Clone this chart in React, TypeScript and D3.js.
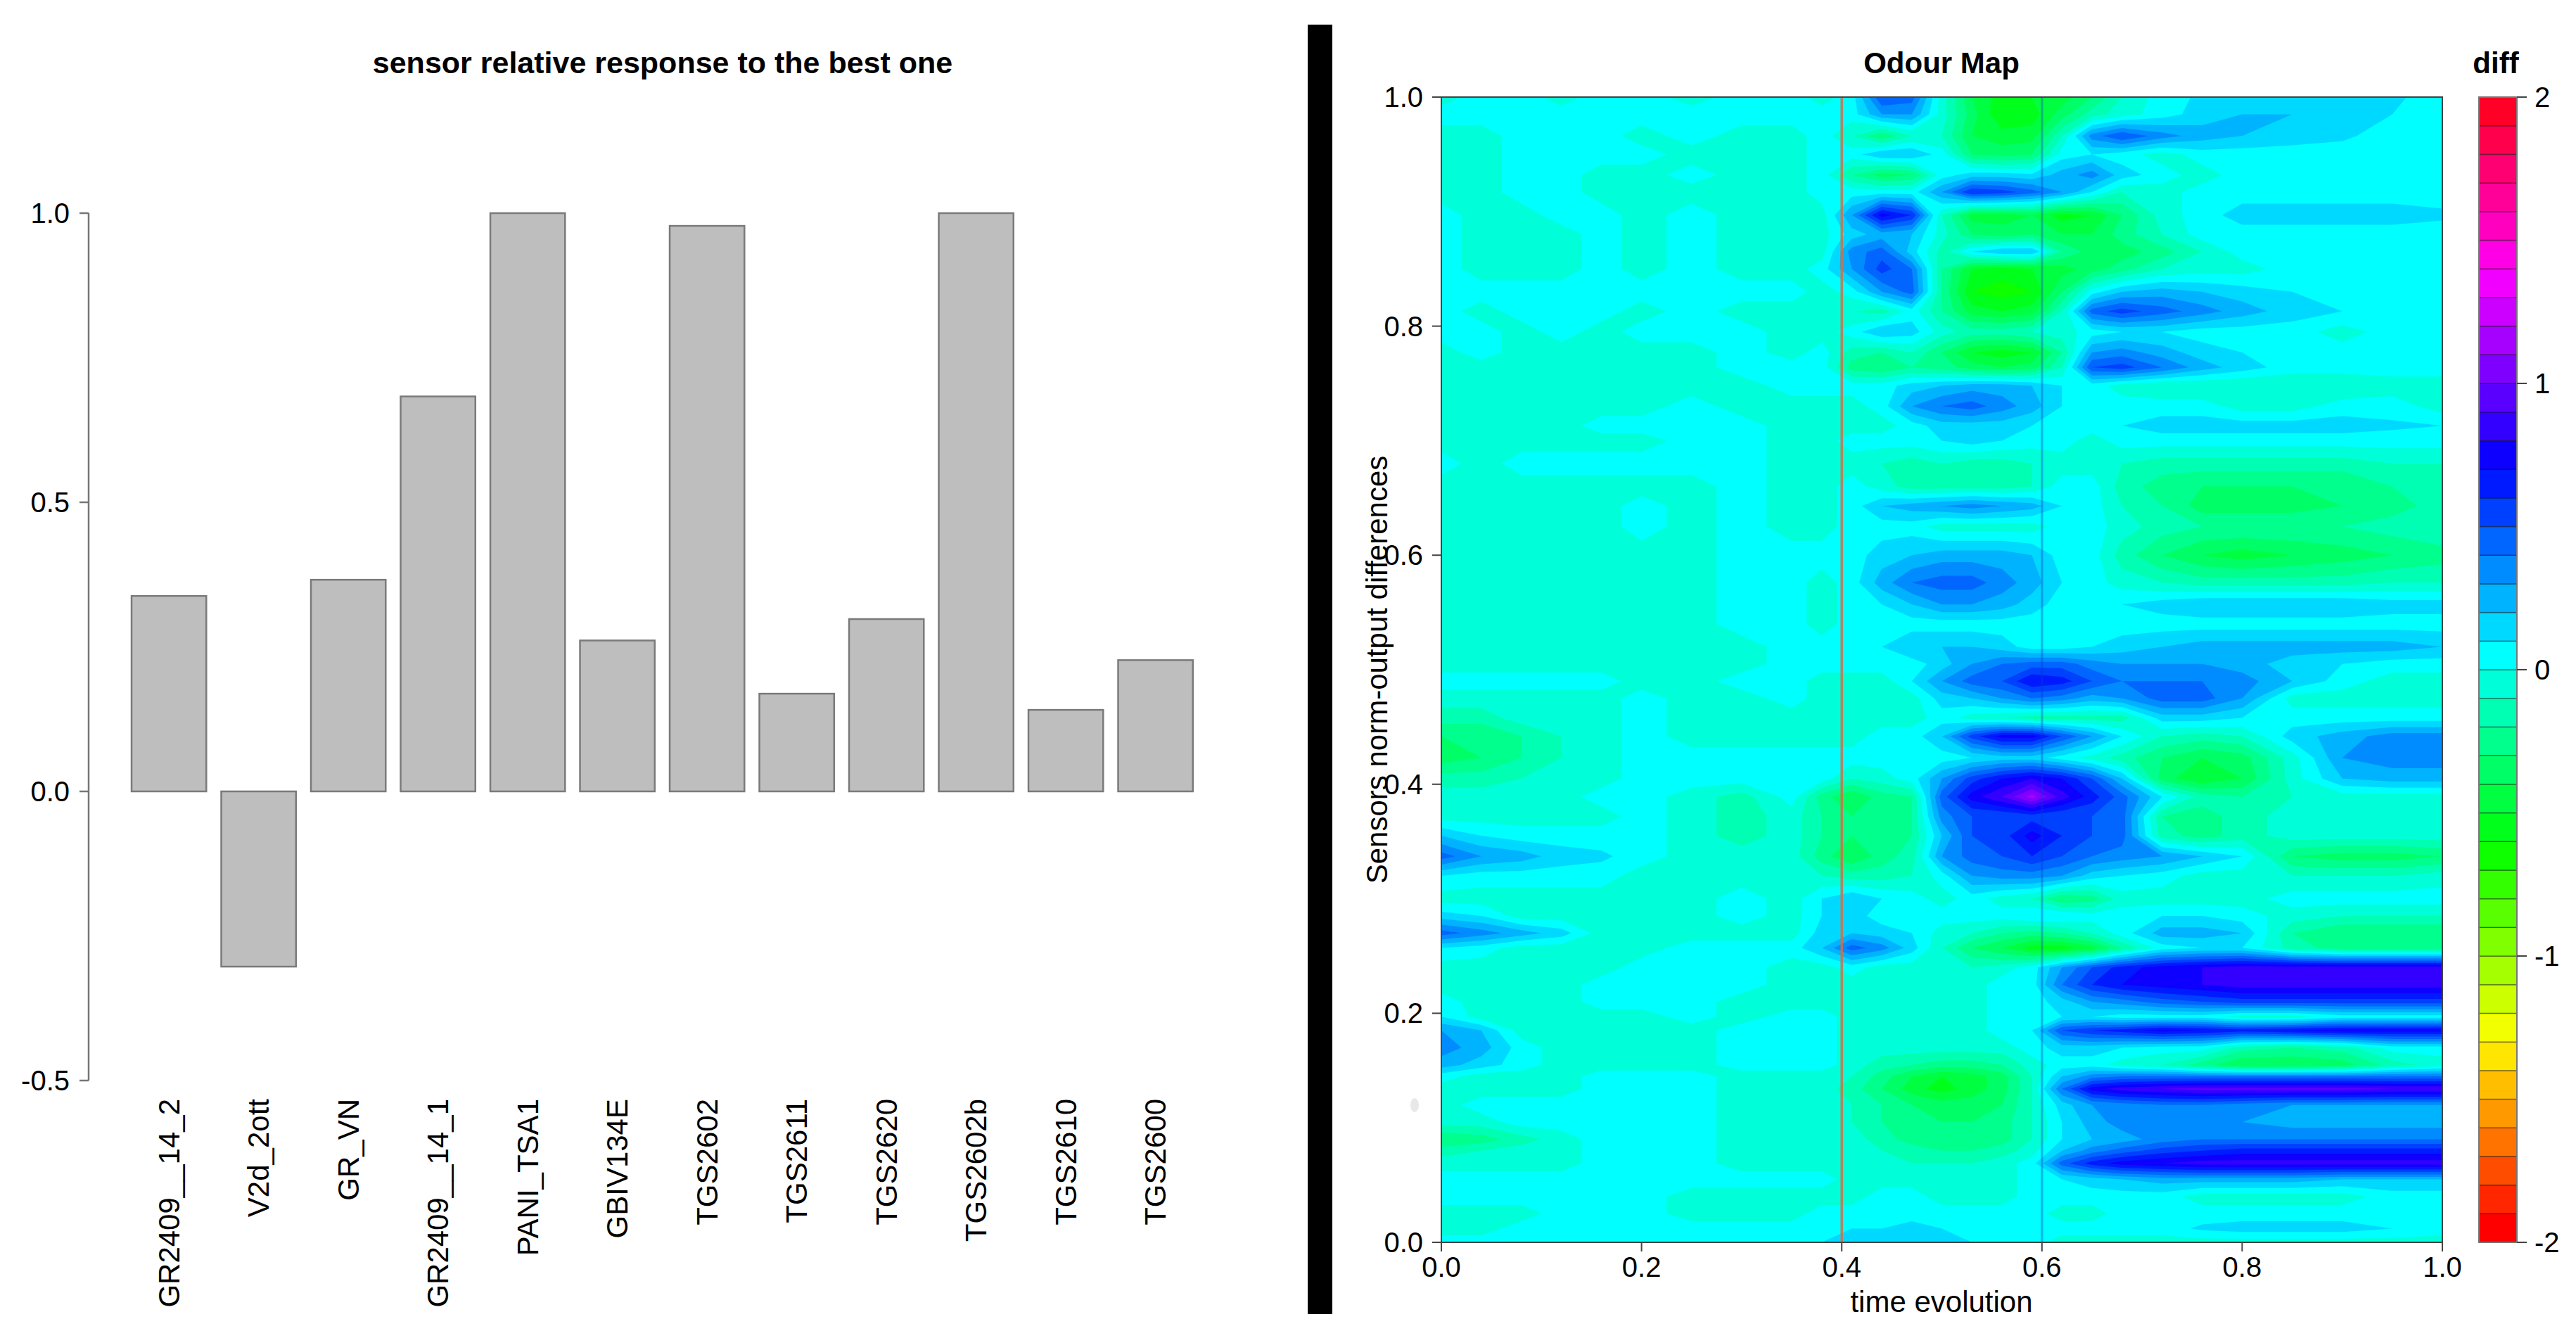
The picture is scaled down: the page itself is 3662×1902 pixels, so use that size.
import React from 'react';
import * as d3 from 'd3';

// ---------- data: left bar chart ----------
const sensorNames = ['GR2409__14_2', 'V2d_2ott', 'GR_VN', 'GR2409__14_1', 'PANI_TSA1', 'GBIV134E', 'TGS2602', 'TGS2611', 'TGS2620', 'TGS2602b', 'TGS2610', 'TGS2600'];
const relativeResponse = [0.338, -0.303, 0.366, 0.683, 1.0, 0.261, 0.978, 0.169, 0.298, 1.0, 0.141, 0.227];
const barAxisTicks = [-0.5, 0, 0.5, 1];

// ---------- data: odour map (grid) ----------
const timeGrid = [0, 0.04, 0.08, 0.12, 0.16, 0.2, 0.25, 0.3, 0.35, 0.38, 0.41, 0.44, 0.47, 0.5, 0.53, 0.56, 0.59, 0.62, 0.65, 0.68, 0.72, 0.76, 0.8, 0.85, 0.9, 0.95, 1];
const sensorGrid = [1.0, .985, .966, .95, .932, .917, .897, .88, .865, .85, .83, .813, .795, .777, .764, .748, .73, .713, .70, .68, .66, .643, .625, .60, .576, .557, .54, .52, .505, .49, .475, .458, .442, .423, .405, .389, .372, .355, .337, .32, .30, .285, .27, .257, .24, .225, .21, .197, .185, .17, .155, .145, .134, .12, .105, .09, .08, .069, .055, .04, .025, .012, 0];
const diffMap = [
  [-.05,.05,.05,-.05,.05,.05,-.05,.05,.05,-.05,.05, .5,.45,-.05,-.4,-.55,-.5,-.45,-.3,-.1, .05,.12,.15,.15,.15,.12,.05],
  [.05,.05,.05,.05,.05,.05,.05,.05,.05,.05,.05, .3,.3,-.05,-.35,-.6,-.55,-.35,-.15,-.05, .05,.15,.2,.2,.15,.1,.05],
  [-.05,-.05,.05,.05,.05,-.05,.05,-.05,-.05,.05,-.1, -.3,-.1,-.1,-.4,-.45,-.45,-.1,.35,.5, .35,.25,.2,.15,.12,.05,.05],
  [-.05,-.05,.05,.05,.05,.05,-.05,-.05,-.05,.05,.05, .2,.2,.05,-.3,-.35,-.3,.05,.1,.05, -.05,.05,.05,.05,.05,.05,.05],
  [-.05,-.05,.05,.05,-.05,-.05,.05,-.05,-.05,.05,-.2, -.35,-.3,.05,.15,.15,.12,.25,.35,.15, .05,-.05,.05,.05,.05,.05,.05],
  [-.05,-.05,.05,.05,-.05,-.05,-.05,-.05,-.05,.05,.05, .05,.05,.3,.6,.55,.45,.3,.1,-.1, -.05,.05,.05,.05,.05,.05,.05],
  [.05,-.05,-.05,.05,.05,-.05,.05,-.05,-.05,-.05,.3, .75,.6,-.1,-.45,-.45,-.4,-.55,-.5,-.3, -.05,.05,.15,.15,.15,.15,.12],
  [.05,-.05,-.05,-.05,.05,-.05,.05,-.05,-.05,-.05,.15, .25,.2,-.05,-.3,-.35,-.3,-.4,-.4,-.25, -.1,.05,.05,.05,.05,.05,.05],
  [.05,-.05,-.05,-.05,.05,-.05,.05,-.05,-.05,-.05,.35, .45,.15,-.15,.1,.2,.2,-.2,-.35,-.35, -.25,-.1,.05,.05,.05,.05,.05],
  [.05,-.05,-.05,-.05,.05,-.05,.05,-.05,-.05,.05,.3, .55,.4,-.2,-.5,-.55,-.5,-.45,-.35,-.25, -.1,-.05,-.05,.05,.05,.05,.05],
  [.05,.05,.05,.05,.05,.05,.05,.05,.05,-.05,.05, .3,.45,-.2,-.6,-.65,-.6,-.3,.05,.2, .25,.2,.15,.1,.05,.05,.05],
  [.05,-.05,.05,.05,.05,-.05,.05,-.05,-.05,-.05,-.1, -.15,.05,-.2,-.45,-.5,-.45,-.1,.45,.55, .45,.35,.25,.15,.1,.05,.05],
  [.05,.05,-.05,.05,-.05,.05,.05,.05,-.05,-.05,.05, .2,.15,-.05,-.15,-.15,-.1,-.05,.05,.1, .1,.05,.05,.05,-.05,.05,.05],
  [-.05,.05,-.05,-.05,-.05,-.05,-.05,.05,-.05,.05,-.15, -.2,-.1,-.3,-.5,-.55,-.5,-.2,.3,.35, .25,.15,.1,.05,.05,.05,.05],
  [-.05,-.05,-.05,-.05,-.05,-.05,-.05,.05,.05,.05,-.25, -.3,-.2,-.25,-.35,-.4,-.35,-.1,.5,.55, .4,.25,.15,.05,.05,.05,.05],
  [-.05,-.05,-.05,-.05,-.05,-.05,-.05,-.05,.05,.05,.05, .05,.15,.2,.25,.25,.2,.1,.05,-.05, -.1,-.1,-.1,-.1,-.1,-.05,-.05],
  [-.05,-.05,-.05,-.05,-.05,-.05,.05,-.05,-.05,-.05,-.05, .05,.3,.4,.45,.35,.25,.1,.05,.05, .05,.05,-.05,-.05,.05,.05,-.05],
  [-.05,-.05,-.05,-.05,.05,.05,.05,.05,-.05,-.05,-.05, -.05,.05,.15,.15,.15,.1,.05,.05,.1, .15,.15,.15,.15,.15,.12,.1],
  [-.05,-.05,-.05,-.05,-.05,-.05,.05,.05,-.05,-.05,.05, .05,.05,.1,.15,.1,.05,.05,-.05,.05, .05,.05,.05,.05,.05,.05,.05],
  [.05,-.05,.05,.05,.05,.05,.05,.05,-.05,-.05,-.05, -.1,-.15,-.1,-.15,-.15,-.1,-.05,-.05,-.1, -.15,-.15,-.15,-.15,-.15,-.1,-.1],
  [-.05,-.05,-.05,-.05,-.05,-.05,-.05,.05,-.05,-.05,.05, -.05,-.15,-.15,-.15,-.15,-.1,.05,.05,-.15, -.25,-.3,-.3,-.3,-.3,-.2,-.15],
  [-.05,-.05,-.05,-.05,-.05,.05,-.05,.05,-.05,-.05,.05, .2,.25,.3,.35,.3,.25,.1,.05,-.1, -.2,-.35,-.35,-.35,-.3,-.25,-.15],
  [-.05,-.05,-.05,-.05,-.05,.05,-.05,.05,-.05,-.05,.05, .05,.05,-.05,-.05,-.05,-.05,.05,.05,-.05, -.15,-.2,-.2,-.2,-.2,-.15,-.1],
  [-.05,-.05,-.05,-.05,-.05,-.05,-.05,.05,.05,.05,.05, .15,.2,.25,.25,.25,.2,.05,.05,-.15, -.3,-.4,-.45,-.4,-.35,-.3,-.25],
  [-.05,-.05,-.05,-.05,-.05,-.05,-.05,.05,.05,-.05,.05, .25,.4,.45,.45,.35,.25,.1,.05,-.05, -.1,-.15,-.15,-.15,-.15,-.1,-.1],
  [-.05,-.05,-.05,-.05,-.05,-.05,-.05,.05,.05,-.05,.05, .1,.2,.3,.3,.25,.15,.05,.05,.1, .15,.2,.2,.2,.2,.15,.15],
  [-.05,-.05,-.05,-.05,-.05,-.05,-.05,.05,.05,-.05,.05, .05,.05,.05,.05,.05,.05,.05,.05,.05, .05,.05,.05,.05,.05,.05,.05],
  [-.05,-.05,-.05,-.05,-.05,-.05,-.05,-.05,.05,.05,.05, .1,.2,.2,.2,.15,.05,.05,.1,.15, .2,.25,.25,.25,.25,.25,.2],
  [-.05,-.05,-.05,-.05,-.05,-.05,-.05,-.05,.05,.05,.05, .05,.05,.15,.3,.4,.45,.45,.35,.3, .3,.3,.25,.15,.1,.05,.05],
  [.05,.05,.05,.05,.05,-.05,-.05,.05,.05,-.05,-.05, -.05,.1,.3,.45,.5,.7,.65,.5,.4, .4,.4,.35,.2,.05,-.05,-.05],
  [-.05,-.05,-.05,-.05,-.05,.05,-.05,-.05,.05,-.05,-.05, -.05,-.05,.15,.2,.3,.4,.35,.25,.3, .45,.45,.3,-.05,-.05,-.05,-.05],
  [-.15,-.15,-.05,-.05,-.05,.05,-.05,-.05,-.05,-.05,-.05, -.05,-.05,.05,-.05,-.1,-.15,-.15,-.15,-.15, .15,.15,.1,.05,.05,.05,.05],
  [-.3,-.3,-.2,-.1,-.05,.05,-.05,-.05,-.05,-.05,-.05, .05,.05,.2,.55,.75,.75,.5,.3,.1, -.1,-.15,-.1,.15,.25,.35,.35],
  [-.35,-.3,-.2,-.1,-.05,.05,.05,.05,.05,.05,.05, .05,.05,.05,.1,.15,.15,.05,-.05,-.15, -.3,-.4,-.35,-.05,.3,.35,.35],
  [-.15,-.15,-.1,-.05,-.05,.05,.05,.05,.05,.05,-.1, -.05,.05,.3,.55,.7,.8,.7,.5,.2, -.35,-.5,-.4,-.05,.2,.25,.25],
  [-.05,-.05,-.05,-.05,.05,.05,-.05,-.15,.05,-.25,-.4, -.25,-.2,.45,.75,.9,1.15,.85,.65,.45, .1,-.15,-.2,-.1,-.05,-.05,-.05],
  [-.05,-.05,-.05,-.05,-.05,.05,-.05,-.15,-.05,-.2,-.3, -.25,-.2,.35,.5,.5,.55,.5,.5,.45, -.2,-.25,-.15,-.05,-.05,-.05,-.05],
  [.2,.1,.05,.05,.05,.05,-.05,-.15,-.05,-.2,-.3, -.25,-.2,.2,.5,.55,.75,.6,.5,.45, -.15,-.25,-.15,-.05,-.05,-.05,-.05],
  [.45,.3,.25,.15,.12,.05,-.05,-.05,-.05,-.25,-.4, -.25,-.15,.3,.45,.5,.6,.5,.4,.35, .3,.2,.1,-.3,-.35,-.35,-.3],
  [.1,.05,.05,.05,.05,-.05,-.05,-.05,-.05,-.1,-.15, -.15,-.1,.05,.3,.35,.35,.3,.15,.1, .05,-.05,-.05,-.1,-.1,-.1,-.05],
  [-.05,-.05,-.05,-.05,-.05,-.05,-.05,.05,-.05,.1,.2, .1,.05,-.05,.05,-.05,-.1,-.3,-.25,-.05, -.05,-.05,-.05,.05,.05,.05,.05],
  [.15,.1,-.05,-.05,-.05,-.05,-.05,.05,-.05,.1,.15, .05,.05,.05,.05,.05,.1,.1,.05,.05, .1,.1,.05,-.05,-.1,-.1,-.1],
  [.45,.35,.25,.15,-.05,-.05,-.05,-.05,-.05,.15,.2, .15,.1,-.05,-.1,-.2,-.25,-.2,-.1,.05, .25,.25,.2,-.2,-.3,-.3,-.3],
  [.1,.05,-.05,-.05,-.05,-.05,.05,.05,.05,.2,.45, .35,.15,-.1,-.3,-.4,-.55,-.55,-.45,-.2, .05,.1,.1,-.15,-.25,-.25,-.25],
  [-.05,-.05,-.05,-.05,-.05,.05,.05,.05,-.05,-.05,.05, -.05,-.05,-.1,-.1,-.05,.05,.3,.5,.65, .75,.8,.85,.85,.85,.85,.85],
  [-.05,-.05,-.05,-.05,.05,.05,.05,.05,-.05,-.05,-.05, -.05,-.05,-.05,-.05,.05,.05,.4,.6,.7, .75,.8,.85,.85,.85,.85,.85],
  [.05,-.05,-.05,-.05,.05,.05,.05,-.05,-.05,-.05,-.05, -.05,-.05,-.05,-.05,.05,.05,.15,.3,.35, .45,.5,.55,.55,.55,.55,.55],
  [.1,-.05,-.05,-.05,-.05,-.05,.05,-.05,.05,.05,-.05, -.05,-.05,-.05,-.05,.05,.05,.1,.1,.05, .05,.05,-.05,-.05,.05,.05,.05],
  [.3,.2,-.05,-.05,-.05,-.05,-.05,.05,.05,.05,-.05, -.05,-.05,-.1,-.05,.05,.1,.5,.6,.65, .75,.7,.65,.7,.75,.75,.75],
  [.35,.25,.05,-.05,-.05,-.05,-.05,.05,.05,.05,-.05, -.05,-.05,-.05,-.05,-.05,.05,.15,.15,.1, .05,.05,-.15,-.2,-.15,.05,.05],
  [.25,.15,.05,-.05,-.05,-.05,-.05,.05,.05,.05,-.05, -.15,-.2,-.25,-.25,-.2,-.05,.05,.05,-.05, -.1,-.25,-.4,-.4,-.35,-.15,-.05],
  [.05,-.05,-.05,-.05,.05,.05,.05,-.05,-.05,-.05,-.1, -.25,-.4,-.5,-.45,-.35,-.1,.2,.35,.4, .4,.4,.4,.4,.4,.4,.4],
  [-.05,-.05,-.05,-.05,.05,.05,.05,-.05,-.05,-.05,-.15, -.3,-.45,-.55,-.45,-.35,-.1,.4,.75,.85, .9,.95,.95,.95,.95,.9,.9],
  [-.05,.05,.05,.05,.05,.05,.05,-.05,-.05,-.05,-.1, -.2,-.3,-.35,-.35,-.3,-.1,.15,.3,.35, .4,.4,.35,.3,.3,.3,.3],
  [-.05,-.05,.05,.05,.05,.05,.05,-.05,-.05,-.05,-.1, -.2,-.3,-.3,-.3,-.25,-.1,.1,.25,.35, .35,.35,.3,.25,.25,.25,.25],
  [-.3,-.25,-.15,-.05,.05,.05,.05,-.05,-.05,-.05,-.05, -.15,-.25,-.3,-.3,-.25,-.1,.1,.2,.25, .35,.4,.4,.4,.4,.4,.4],
  [-.15,-.1,-.05,-.05,.05,.05,.05,-.05,-.05,-.05,-.05, -.1,-.15,-.2,-.2,-.15,-.05,.2,.35,.45, .55,.6,.65,.65,.65,.65,.65],
  [-.05,-.05,-.05,-.05,.05,.05,.05,-.05,-.05,-.05,-.05, -.05,-.1,-.1,-.1,-.05,.05,.45,.65,.75, .8,.85,.85,.85,.85,.85,.85],
  [.05,.05,.05,.05,.05,.05,.05,.05,.05,.05,-.05, -.05,-.05,-.1,-.1,-.05,.05,.1,.15,.2, .25,.25,.25,.25,.2,.2,.2],
  [.05,.05,.05,.05,.05,.05,-.05,-.05,-.05,-.05,-.05, .05,.05,-.05,-.05,-.05,.05,.05,.05,.05, .05,-.05,-.05,-.05,-.05,.05,.05],
  [-.05,-.05,-.05,.05,.05,.05,-.05,-.05,-.05,.05,.05, .05,.05,.05,.05,.05,.05,-.05,-.05,.05, .05,.05,.05,.05,.05,.05,.05],
  [-.05,-.05,.05,.05,.05,.05,.05,.05,.05,.05,.1, .1,.15,.1,.05,.05,.05,.05,.05,.05, .05,.12,.15,.15,.15,.1,.05],
  [.05,.05,.05,.05,.05,.05,.05,.05,.05,.1,.15, .2,.2,.15,.1,.05,.05,-.05,-.05,-.05, -.05,-.05,-.05,-.05,-.05,-.05,-.05],
];
const mapAxisTicks = [0, 0.2, 0.4, 0.6, 0.8, 1];
const markerTimes = [0.4, 0.6];
const markerColors = ['rgba(210,110,70,0.85)', 'rgba(0,60,200,0.35)'];
const keyTicks = [-2, -1, 0, 1, 2];
const keyLevels = d3.range(41).map((i) => Math.round((-2 + i * 0.1) * 10) / 10);

const FONT = "'Liberation Sans', Arial, Helvetica, sans-serif";

export default function App() {
  const W = 3662;
  const H = 1902;

  // ----- bar chart scales -----
  const bx = d3.scaleBand().domain(sensorNames).range([176.4, 1706.4]).paddingInner(1 / 6).paddingOuter(1 / 12);
  const by = d3.scaleLinear().domain([-0.5, 1]).range([1536, 303]);

  // ----- map scales -----
  const mx = d3.scaleLinear().domain([0, 1]).range([2049, 3472]);
  const my = d3.scaleLinear().domain([0, 1]).range([1766, 138]);
  const nx = timeGrid.length;
  const ny = sensorGrid.length;
  const colToTime = d3.scaleLinear().domain(d3.range(nx)).range(timeGrid).clamp(true);
  const rowToSensor = d3.scaleLinear().domain(d3.range(ny)).range(sensorGrid).clamp(true);
  const bandLows = keyLevels.slice(0, -1);
  const bandColor = (i: number) => d3.hsl((360 * i) / bandLows.length, 1, 0.5).toString();
  const contours = d3.contours().size([nx, ny]).thresholds(bandLows)(diffMap.flat());
  const projection = d3.geoTransform({
    point(x: number, y: number) {
      // @ts-ignore
      this.stream.point(mx(colToTime(x - 0.5)), my(rowToSensor(y - 0.5)));
    },
  });
  const path = d3.geoPath(projection as any);
  const ky = d3.scaleLinear().domain([-2, 2]).range([1766, 138]);
  const keyX0 = 3524;
  const keyX1 = 3578;

  return (
    <svg width={W} height={H} viewBox={`0 0 ${W} ${H}`} style={{ position: 'absolute', left: 0, top: 0, background: '#fff' }} fontFamily={FONT}>
      <rect x={0} y={0} width={W} height={H} fill="#fff" />

      {/* ================= left: bar chart ================= */}
      <text x={942} y={104} textAnchor="middle" fontWeight="bold" fontSize={43}>sensor relative response to the best one</text>
      {sensorNames.map((name, i) => {
        const v = relativeResponse[i];
        const y0 = by(0);
        const y1 = by(v);
        return (
          <rect key={name} x={bx(name)} y={Math.min(y0, y1)} width={bx.bandwidth()} height={Math.abs(y1 - y0)}
            fill="#bebebe" stroke="#7a7a7a" strokeWidth={2.5} />
        );
      })}
      <line x1={126} x2={126} y1={by(1)} y2={by(-0.5)} stroke="#777" strokeWidth={2.5} />
      {barAxisTicks.map((t) => (
        <g key={t}>
          <line x1={113} x2={126} y1={by(t)} y2={by(t)} stroke="#777" strokeWidth={2.5} />
          <text x={99} y={by(t) + 14} textAnchor="end" fontSize={40}>{t.toFixed(1)}</text>
        </g>
      ))}
      {sensorNames.map((name) => (
        <text key={name} transform={`translate(${(bx(name) as number) + bx.bandwidth() / 2},1562) rotate(-90)`}
          textAnchor="end" dy="0.35em" fontSize={42}>{name}</text>
      ))}

      {/* separator bar */}
      <rect x={1859} y={35} width={35} height={1833} fill="#000" />

      {/* ================= right: odour map ================= */}
      <text x={2760} y={104} textAnchor="middle" fontWeight="bold" fontSize={42}>Odour Map</text>
      <text x={3548} y={104} textAnchor="middle" fontWeight="bold" fontSize={42}>diff</text>
      <defs>
        <clipPath id="plotClip">
          <rect x={mx(0)} y={my(1)} width={mx(1) - mx(0)} height={my(0) - my(1)} />
        </clipPath>
      </defs>
      <g clipPath="url(#plotClip)">
        {contours.map((c: any) => {
          const idx = bandLows.indexOf(c.value);
          return <path key={c.value} d={path(c) || ''} fill={bandColor(idx)} stroke="none" />;
        })}
        {markerTimes.map((t, i) => (
          <line key={t} x1={mx(t)} x2={mx(t)} y1={my(1)} y2={my(0)} stroke={markerColors[i]} strokeWidth={3.5} />
        ))}
      </g>
      <ellipse cx={2011} cy={1571} rx={6} ry={10} fill="#d8d8d8" opacity={0.6} />
      <rect x={mx(0)} y={my(1)} width={mx(1) - mx(0)} height={my(0) - my(1)} fill="none" stroke="#444" strokeWidth={2} />
      {mapAxisTicks.map((t) => (
        <g key={'y' + t}>
          <line x1={2036} x2={mx(0)} y1={my(t)} y2={my(t)} stroke="#444" strokeWidth={2} />
          <text x={2023} y={my(t) + 14} textAnchor="end" fontSize={40}>{t.toFixed(1)}</text>
        </g>
      ))}
      {mapAxisTicks.map((t) => (
        <g key={'x' + t}>
          <line x1={mx(t)} x2={mx(t)} y1={my(0)} y2={my(0) + 13} stroke="#444" strokeWidth={2} />
          <text x={mx(t)} y={1815} textAnchor="middle" fontSize={40}>{t.toFixed(1)}</text>
        </g>
      ))}
      <text x={2760} y={1865} textAnchor="middle" fontSize={42}>time evolution</text>
      <text transform="translate(1972,952) rotate(-90)" textAnchor="middle" fontSize={42}>Sensors norm-output differences</text>

      {/* colour key */}
      {bandLows.map((lo, i) => (
        <rect key={lo} x={keyX0} y={ky(keyLevels[i + 1])} width={keyX1 - keyX0} height={ky(lo) - ky(keyLevels[i + 1])}
          fill={bandColor(i)} stroke="rgba(0,0,0,0.4)" strokeWidth={1.5} />
      ))}
      <rect x={keyX0} y={ky(2)} width={keyX1 - keyX0} height={ky(-2) - ky(2)} fill="none" stroke="#777" strokeWidth={2} />
      {keyTicks.map((t) => (
        <g key={'k' + t}>
          <line x1={keyX1} x2={keyX1 + 14} y1={ky(t)} y2={ky(t)} stroke="#444" strokeWidth={2} />
          <text x={3603} y={ky(t) + 14} textAnchor="start" fontSize={40}>{String(t)}</text>
        </g>
      ))}
    </svg>
  );
}
